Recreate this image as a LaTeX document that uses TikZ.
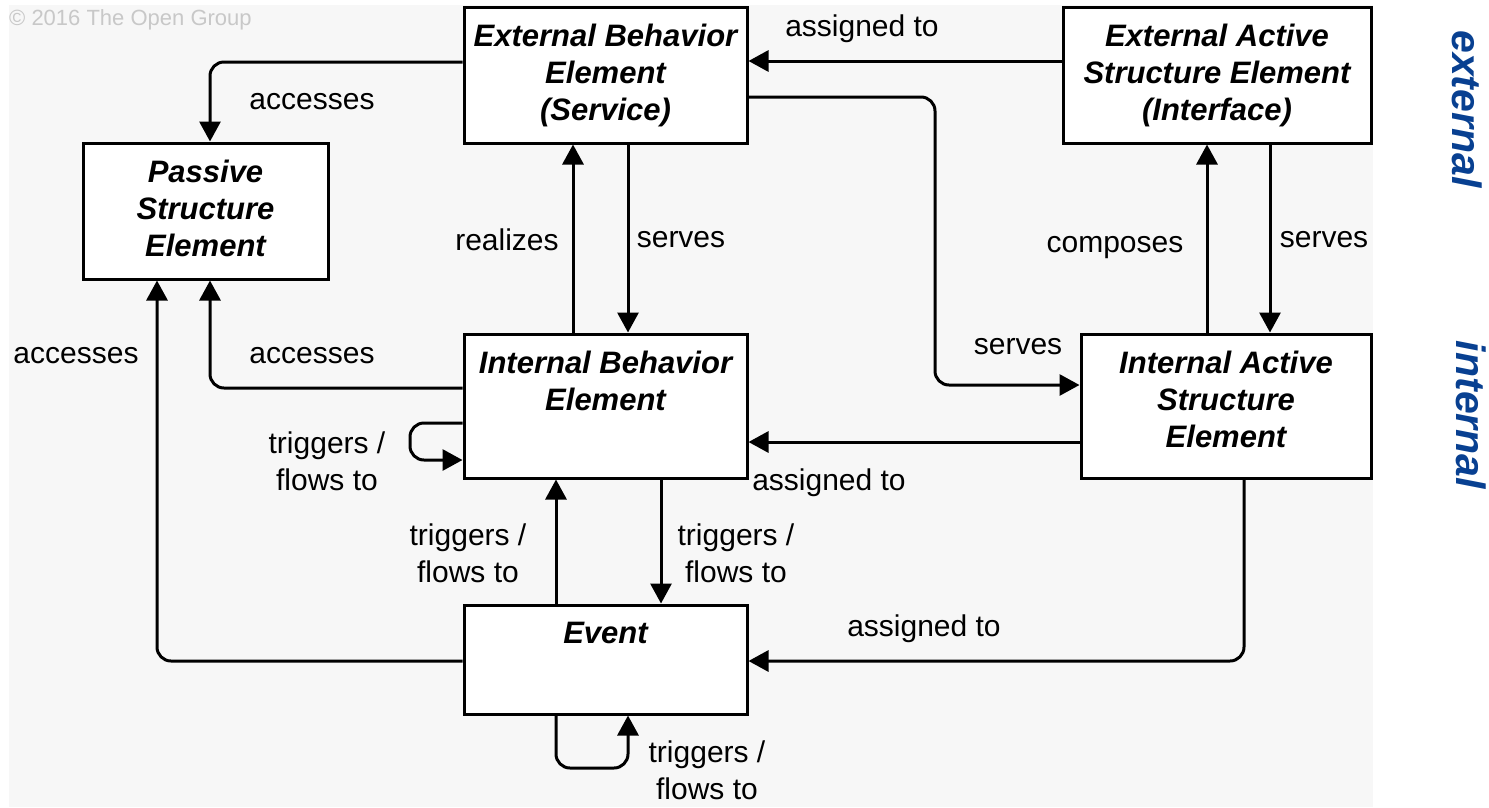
\documentclass[tikz,border=0pt]{standalone}
\usepackage{fontspec}
\setmainfont{Liberation Sans}
\usepackage{tikz}
\usetikzlibrary{positioning,arrows.meta}

\definecolor{panelgrey}{RGB}{247,247,247}
\definecolor{copygrey}{RGB}{200,200,200}
\definecolor{sideblue}{RGB}{8,64,145}

\tikzset{
  elem/.style={draw, line width=3pt, fill=white, inner sep=0pt},
  elemtext/.style={font=\fontsize{31}{37}\selectfont\bfseries\itshape, align=center, inner sep=0pt},
  lbl/.style={font=\fontsize{30}{37}\selectfont, align=center, inner sep=0pt, yshift=-3pt},
  link/.style={line width=3pt, rounded corners=14pt, -{Triangle[length=20pt,width=21pt]}},
  side/.style={font=\fontsize{41}{41}\selectfont\bfseries\itshape, text=sideblue, rotate=-90, inner sep=0pt}
}

\begin{document}
\begin{tikzpicture}[x=1pt,y=-1pt]

\useasboundingbox (0,0) rectangle (1489,807);
\fill [panelgrey] (9,5) rectangle (1373,807);

\node [anchor=west, inner sep=0pt, text=copygrey, font=\fontsize{22}{24}\selectfont] (copy) at (9,20) {© 2016 The Open Group};
\node [side] (ext) at (1467,109) {external};
\node [side] (int) at (1471,415) {internal};

% elements
\node [elem, minimum width=283pt, minimum height=136pt] (ebe) at (605.5,75) {};
\node [elem, minimum width=308pt, minimum height=136pt] (eas) at (1217,75) {};
\node [elem, minimum width=245pt, minimum height=136pt] (pse) at (205.5,211) {};
\node [elem, minimum width=283pt, minimum height=144pt] (ibe) at (605.5,406) {};
\node [elem, minimum width=290pt, minimum height=144pt] (ias) at (1226,406) {};
\node [elem, minimum width=283pt, minimum height=109pt] (evt) at (605.5,659.5) {};

\node [elemtext, below=18pt of ebe.north] (ebe-t) {External Behavior\\Element\\(Service)};
\node [elemtext, below=18pt of eas.north] (eas-t) {External Active\\Structure Element\\(Interface)};
\node [elemtext, below=18pt of pse.north] (pse-t) {Passive\\Structure\\Element};
\node [elemtext, below=18pt of ibe.north] (ibe-t) {Internal Behavior\\Element};
\node [elemtext, below=18pt of ias.north] (ias-t) {Internal Active\\Structure\\Element};
\node [elemtext, below=18pt of evt.north] (evt-t) {Event};

% relations
\draw [link] (ebe.west |- 0,62) -| (pse.north -| 210,0);
\draw [link] (eas.west |- 0,61) -- (ebe.east |- 0,61);
\draw [link] (ebe.east |- 0,97) -| (935,385) -- (ias.west |- 0,385);
\draw [link] (ibe.north -| 573,0) -- (ebe.south -| 573,0);
\draw [link] (ebe.south -| 628,0) -- (ibe.north -| 628,0);
\draw [link] (ias.north -| 1207,0) -- (eas.south -| 1207,0);
\draw [link] (eas.south -| 1270,0) -- (ias.north -| 1270,0);
\draw [link] (ibe.west |- 0,388) -| (pse.south -| 210,0);
\draw [link] (evt.west |- 0,661) -| (pse.south -| 157,0);
\draw [link] (ibe.west |- 0,423) -- (410,423) -- (410,460) -- (ibe.west |- 0,460);
\draw [link] (ias.west |- 0,442) -- (ibe.east |- 0,442);
\draw [link] (evt.north -| 556,0) -- (ibe.south -| 556,0);
\draw [link] (ibe.south -| 661,0) -- (evt.north -| 661,0);
\draw [link] (ias.south -| 1244,0) |- (evt.east |- 0,661);
\draw [link] (evt.south -| 556,0) -- (556,768) -- (628,768) -- (evt.south -| 628,0);

% labels
\node [lbl] (l1) at (312,99) {accesses};
\node [lbl] (l2) at (862,26) {assigned to};
\node [lbl] (l3) at (1018,344) {serves};
\node [lbl] (l4) at (507,237) {realizes};
\node [lbl] (l5) at (681,237) {serves};
\node [lbl] (l6) at (1115,245) {composes};
\node [lbl] (l7) at (1324,237) {serves};
\node [lbl] (l8) at (312,353) {accesses};
\node [lbl] (l9) at (76,353) {accesses};
\node [lbl] (l10) at (327,458) {triggers /\\flows to};
\node [lbl] (l11) at (829,480) {assigned to};
\node [lbl] (l12) at (468,550) {triggers /\\flows to};
\node [lbl] (l13) at (736,550) {triggers /\\flows to};
\node [lbl] (l14) at (924,626) {assigned to};
\node [lbl] (l15) at (707,767) {triggers /\\flows to};

\end{tikzpicture}
\end{document}
